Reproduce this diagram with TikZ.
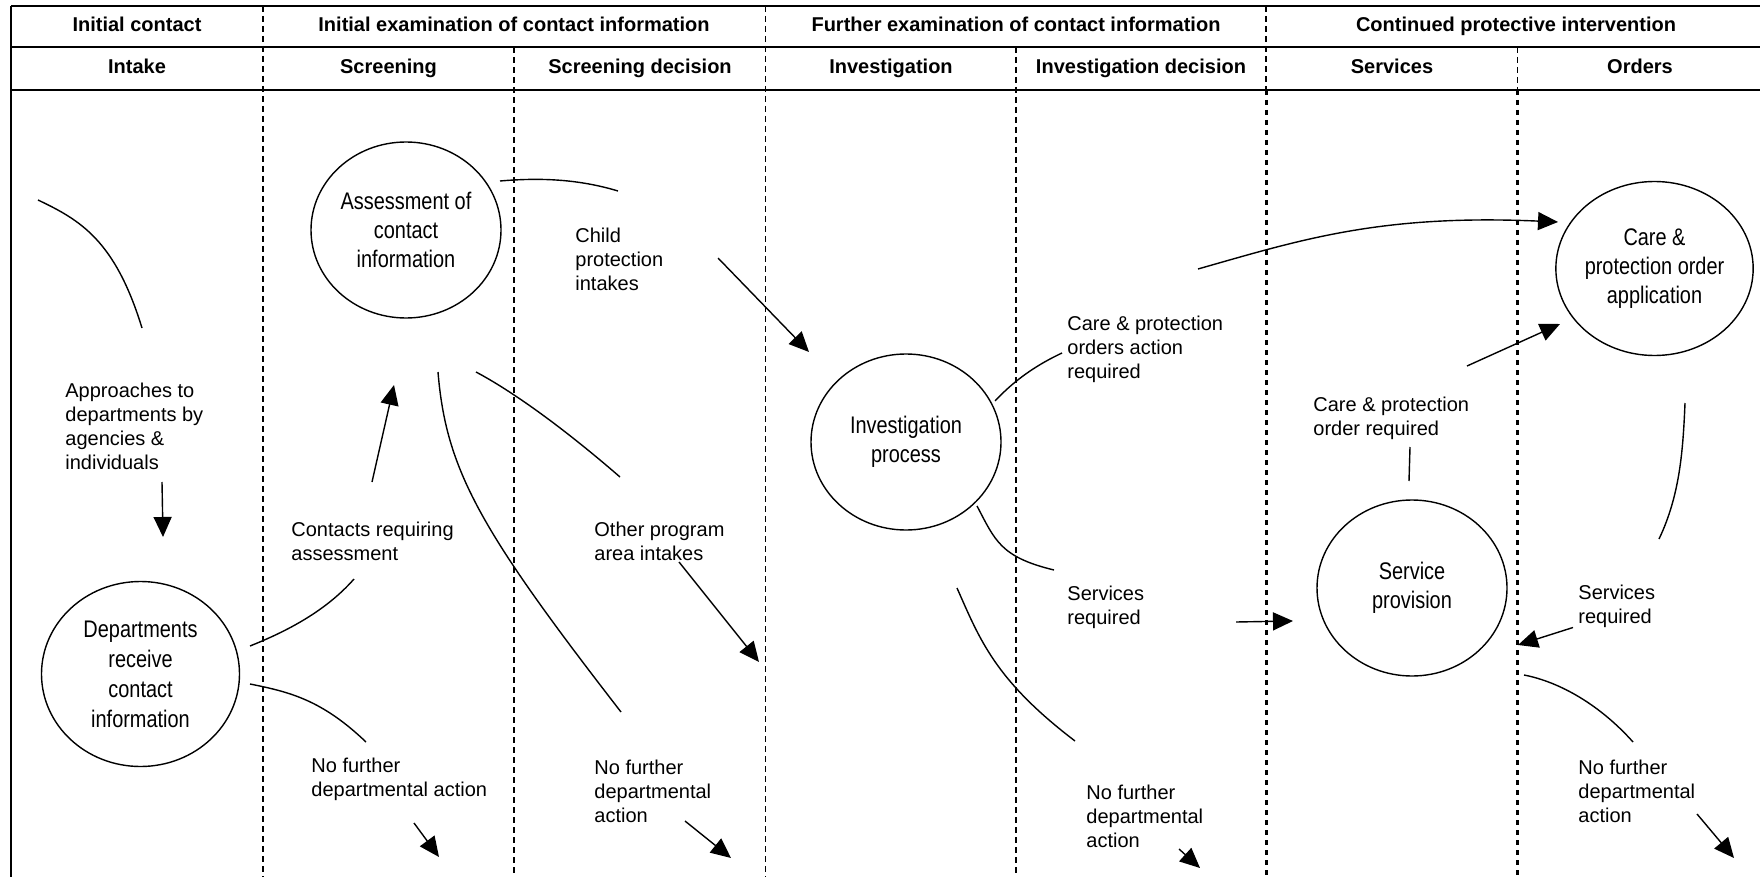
\documentclass[tikz,border=0pt]{standalone}
\usepackage{fontspec}
\setmainfont{Liberation Sans}
\newfontfamily\narrowfont{Liberation Sans}[FakeStretch=0.83]
\usepackage{tikz}
\usetikzlibrary{arrows.meta,shapes.geometric}

\begin{document}
\begin{tikzpicture}[x=0.5pt, y=-0.5pt,
  stage/.style={ellipse, draw=black, line width=0.7pt, inner sep=0pt, minimum width=95pt, minimum height=88pt, align=center, font=\narrowfont\fontsize{12}{14.5}\selectfont},
  note/.style={anchor=west, inner sep=0pt, align=left, font=\fontsize{10}{12}\selectfont},
  headtext/.style={inner sep=0pt, text height=7.2pt, text depth=2pt, font=\bfseries\fontsize{10}{12}\selectfont},
  flow/.style={-{Triangle[length=10pt,width=9pt]}, line width=0.7pt},
  wire/.style={line width=0.7pt},
  frameline/.style={line width=1.2pt},
  lane/.style={line width=0.8pt, dash pattern=on 3pt off 2pt},
  thicklane/.style={line width=1.5pt, dash pattern=on 2.5pt off 2.5pt}
]
\useasboundingbox (0,0) rectangle (1760,877);

% Frame and swimlanes
\draw[frameline] (11,6) -- (1760,6);
\draw[frameline] (11,47) -- (1760,47);
\draw[frameline] (11,90) -- (1760,90);
\draw[line width=0.9pt] (11,6) -- (11,877);
\foreach \x in {263,765.5} \draw[lane] (\x,6) -- (\x,877);
\foreach \x in {514,1016} \draw[lane] (\x,47) -- (\x,877);
\draw[lane] (1266,6) -- (1266,90);
\draw[lane] (1517.5,47) -- (1517.5,90);
\foreach \x in {1266,1517.5} \draw[thicklane] (\x,90) -- (\x,877);

% Header row 1
\node[headtext] (hcontact) at (137,26.5) {Initial contact};
\node[headtext] (hinitial) at (514,26.5) {Initial examination of contact information};
\node[headtext] (hfurther) at (1016,26.5) {Further examination of contact information};
\node[headtext] (hcontinued) at (1516,26.5) {Continued protective intervention};

% Header row 2
\node[headtext] (hintake) at (137,68.5) {Intake};
\node[headtext] (hscreen) at (388.5,68.5) {Screening};
\node[headtext] (hscreendec) at (640,68.5) {Screening decision};
\node[headtext] (hinvest) at (891,68.5) {Investigation};
\node[headtext] (hinvestdec) at (1141,68.5) {Investigation decision};
\node[headtext] (hservices) at (1392,68.5) {Services};
\node[headtext] (horders) at (1640,68.5) {Orders};

% Process stages
\node[stage, minimum width=99pt, minimum height=92.5pt, font=\narrowfont\fontsize{12}{15}\selectfont] (dept) at (140.5,674) {Departments\\receive\\contact\\information};
\node[stage] (assess) at (406,230) {Assessment of\\contact\\information};
\node[stage] (invest) at (906,442) {Investigation\\process};
\node[stage] (service) at (1412,588) {Service\\provision};
\node[stage, minimum width=95.5pt, minimum height=87pt] (cpo) at (1654.5,268.5) {Care \&\\protection order\\application};

% Flow labels
\node[note] (approach) at (65,426.5) {Approaches to\\departments by\\agencies \&\\individuals};
\node[note] (contacts) at (291,541.5) {Contacts requiring\\assessment};
\node[note] (nofurtherA) at (311,779) {No further\\departmental action};
\node[note] (childprot) at (575,259) {Child\\protection\\intakes};
\node[note] (otherprog) at (594,541.5) {Other program\\area intakes};
\node[note] (nofurtherB) at (594,791) {No further\\departmental\\action};
\node[note] (careorders) at (1067,349.5) {Care \& protection\\orders action\\required};
\node[note] (servreqA) at (1067,607) {Services\\required};
\node[note] (nofurtherC) at (1086,816) {No further\\departmental\\action};
\node[note] (careorder) at (1313,418) {Care \& protection\\order required};
\node[note] (servreqB) at (1578,606.5) {Services\\required};
\node[note] (nofurtherD) at (1578,791.3) {No further\\departmental\\action};

% Connector ends
\coordinate (inA) at (38,200);     \coordinate (inB) at (142,328);
\coordinate (apS) at (162,482);    \coordinate (apE) at (163,537);
\coordinate (deA) at (250,646);    \coordinate (deB) at (354,579);
\coordinate (deC) at (250,684);    \coordinate (deD) at (366,742);
\coordinate (caS) at (372,482);    \coordinate (caE) at (394,385);
\coordinate (nfaS) at (414,823);   \coordinate (nfaE) at (439,857);
\coordinate (asA) at (500,181);    \coordinate (asB) at (618,191);
\coordinate (asC) at (438,372);    \coordinate (asD) at (621,712);
\coordinate (asE) at (476,372);    \coordinate (asF) at (620,477);
\coordinate (cpS) at (718,258);    \coordinate (cpE) at (809,352);
\coordinate (opS) at (679,562);    \coordinate (opE) at (759,662);
\coordinate (nfbS) at (685,821);   \coordinate (nfbE) at (731,858);
\coordinate (ivA) at (995,401);    \coordinate (ivB) at (1062,353);
\coordinate (ivC) at (977,506);    \coordinate (ivD) at (1054,570);
\coordinate (ivE) at (957,588);    \coordinate (ivF) at (1075,741);
\coordinate (srS) at (1236,622);   \coordinate (srE) at (1293,621);
\coordinate (nfcS) at (1179,849);  \coordinate (nfcE) at (1200,868);
\coordinate (orS) at (1198,269);   \coordinate (orE) at (1558,222);
\coordinate (coS) at (1467,366);   \coordinate (coE) at (1560,324);
\coordinate (svA) at (1410,447);   \coordinate (svB) at (1409,481);
\coordinate (cpA) at (1685,403);   \coordinate (cpB) at (1659,539);
\coordinate (sbS) at (1573,627.5); \coordinate (sbE) at (1518,645);
\coordinate (svC) at (1524,675);   \coordinate (svD) at (1633,742);
\coordinate (nfdS) at (1697,814);  \coordinate (nfdE) at (1734,858);

% Intake and screening
\draw[wire] (inA) .. controls (80,220) and (115,240) .. (inB);
\draw[flow] (apS) -- (apE);
\draw[wire] (deA) .. controls (285,632) and (325,612) .. (deB);
\draw[wire] (deC) .. controls (290,692) and (322,700) .. (deD);
\draw[flow] (caS) -- (caE);
\draw[flow] (nfaS) -- (nfaE);
\draw[wire] (asA) .. controls (535,178) and (575,178) .. (asB);
\draw[wire] (asC) .. controls (446,470) and (480,530) .. (asD);
\draw[wire] (asE) .. controls (510,390) and (560,425) .. (asF);
\draw[flow] (cpS) -- (cpE);
\draw[flow] (opS) -- (opE);
\draw[flow] (nfbS) -- (nfbE);

% Investigation
\draw[wire] (ivA) .. controls (1010,385) and (1030,368) .. (ivB);
\draw[wire] (ivC) .. controls (995,540) and (1000,557) .. (ivD);
\draw[wire] (ivE) .. controls (980,640) and (995,680) .. (ivF);
\draw[flow] (srS) -- (srE);
\draw[flow] (nfcS) -- (nfcE);

% Services and orders
\draw[flow] (orS) .. controls (1300,240) and (1380,214) .. (orE);
\draw[flow] (coS) -- (coE);
\draw[wire] (svA) -- (svB);
\draw[wire] (cpA) .. controls (1683,450) and (1680,495) .. (cpB);
\draw[flow] (sbS) -- (sbE);
\draw[wire] (svC) .. controls (1560,682) and (1600,705) .. (svD);
\draw[flow] (nfdS) -- (nfdE);

\end{tikzpicture}
\end{document}
